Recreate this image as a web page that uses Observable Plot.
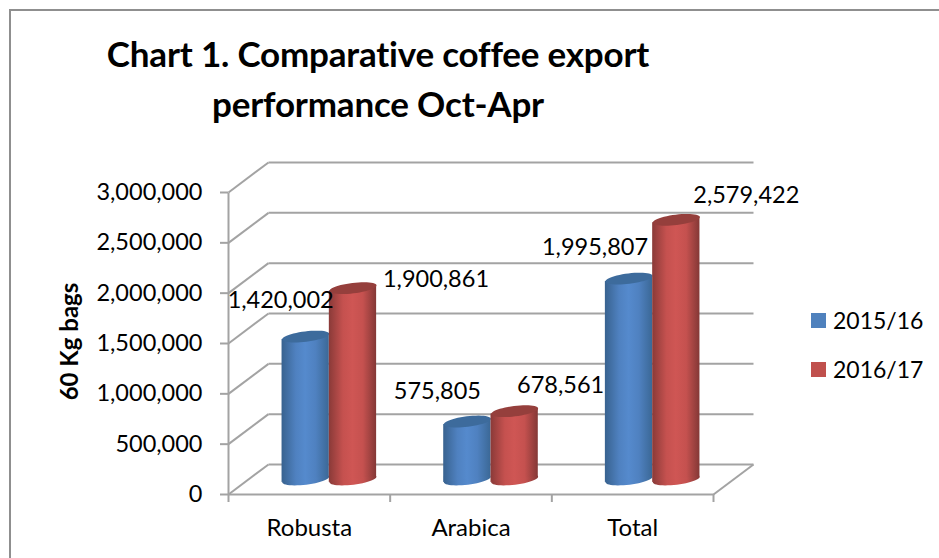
<!DOCTYPE html>
<html>
<head>
<meta charset="utf-8">
<script src="https://cdn.jsdelivr.net/npm/d3@7"></script>
<script src="https://cdn.jsdelivr.net/npm/@observablehq/plot@0.6"></script>
<style>
  html, body { margin: 0; padding: 0; background: #fff; overflow: hidden; }
  #page { position: relative; width: 939px; height: 558px; overflow: hidden; font-family: Lato, sans-serif; color: #000; }
  #frame { position: absolute; left: 9px; top: 9px; width: 960px; height: 600px; border: 2px solid #8f8f8f; box-sizing: border-box; }
  #title { position: absolute; left: 78px; top: 28px; width: 600px; height: 100px; margin: 0; text-align: center; font-size: 35px; line-height: 50px; font-weight: 700; letter-spacing: -0.2px; }
  #chart { position: absolute; left: 0; top: 130px; }
  #legend { position: absolute; left: 811px; top: 305px; font-size: 23px; }
  #legend div { display: flex; align-items: center; height: 30px; margin-bottom: 19px; }
  #legend i { display: block; width: 15px; height: 15px; margin-right: 7px; }
</style>
</head>
<body>
<div id="page">
  <div id="frame"></div>
  <h1 id="title">Chart 1. Comparative coffee export<br>performance Oct-Apr</h1>
  <div id="chart"></div>
  <div id="legend"></div>
</div>
<script>
const categories = ["Robusta", "Arabica", "Total"];
const seasons = ["2015/16", "2016/17"];
const exports201516 = [1420002, 575805, 1995807];
const exports201617 = [1900861, 678561, 2579422];
const yTicks = [0, 500000, 1000000, 1500000, 2000000, 2500000, 3000000];

// Oblique depth of the 3D box, in data units of each axis.
const depthX = 0.2474;
const depthY = 298000;
const barWidth = 0.2925;
// How far the rim of a cylinder end rises across half its width, in y units.
const rimTilt = 28600;

const seriesStyle = [
  {values: exports201516, swatch: "#4f81bd", side: "url(#side-blue)", cap: "#3d6b9c"},
  {values: exports201617, swatch: "#c0504d", side: "url(#side-red)", cap: "#953f3c"}
];

// Pixel nudges for the value labels, which sit clear of the cylinders.
const labelNudge = [
  [[-25, -36], [83, -9]],
  [[-30, -30], [46, -26]],
  [[-34, -31], [70, -24]]
];

const grey = "#a3a3a3";
const thousands = d3.format(",");

// Tilted ellipse for the cylinder ends; the dot radius sets its half-width.
const tiltedEllipse = {
  draw(context, size) {
    const a = Math.sqrt(size / Math.PI), b = a * 0.22, t = -7 * Math.PI / 180;
    for (let i = 0; i < 48; ++i) {
      const u = (i / 48) * 2 * Math.PI;
      const ex = a * Math.cos(u), ey = b * Math.sin(u);
      const px = ex * Math.cos(t) - ey * Math.sin(t);
      const py = ex * Math.sin(t) + ey * Math.cos(t);
      if (i === 0) context.moveTo(px, py); else context.lineTo(px, py);
    }
    context.closePath();
  }
};

function gradients() {
  const g = document.createElementNS("http://www.w3.org/2000/svg", "defs");
  const ramp = (id, edgeL, mid, peak, edgeR) => `
    <linearGradient id="${id}" x1="0" x2="1" y1="0" y2="0">
      <stop offset="0" stop-color="${edgeL}"/>
      <stop offset="0.3" stop-color="${mid}"/>
      <stop offset="0.5" stop-color="${peak}"/>
      <stop offset="0.72" stop-color="${mid}"/>
      <stop offset="1" stop-color="${edgeR}"/>
    </linearGradient>`;
  g.innerHTML = ramp("side-blue", "#38628f", "#4f81c0", "#558acd", "#3b6896")
              + ramp("side-red", "#8a3a38", "#c5514f", "#cf5654", "#843836");
  return g;
}

// One cylinder per category and season: lower end, body, upper end.
const cylinders = seriesStyle.flatMap((s, j) => {
  const rows = categories.map((c, i) => ({
    category: c,
    center: i + 0.5 + depthX / 2 + (j - 0.5) * barWidth,
    base: depthY / 2,
    top: s.values[i] + depthY / 2
  }));
  // The body's left and right edges meet the tilted rims of both ends.
  const edges = rows.flatMap(d => [-1, 1].map(side => ({
    category: d.category,
    x: d.center + side * barWidth / 2,
    y1: d.base + side * rimTilt,
    y2: d.top + side * rimTilt
  })));
  const endStyle = {x: "center", r: (barWidth * 161.67) / 2, symbol: tiltedEllipse};
  return [
    Plot.dot(rows, {...endStyle, y: "base", fill: s.side}),
    Plot.areaY(edges, {x: "x", y1: "y1", y2: "y2", z: "category", fill: s.side}),
    Plot.dot(rows, {...endStyle, y: "top", fill: s.cap})
  ];
});

const valueLabels = seriesStyle.flatMap((s, j) => categories.map((c, i) => Plot.text(
  [{x: i + 0.5 + depthX / 2 + (j - 0.5) * barWidth, y: s.values[i] + depthY / 2, v: s.values[i]}],
  {x: "x", y: "y", text: d => thousands(d.v), dx: labelNudge[i][j][0], dy: labelNudge[i][j][1], fontSize: 23.5, fill: "#000"}
)));

const chart = Plot.plot({
  width: 939,
  height: 428,
  marginLeft: 228,
  marginRight: 226,
  marginTop: 62,
  marginBottom: 64,
  style: {fontFamily: "Lato, sans-serif", background: "transparent", color: "#000", overflow: "visible"},
  x: {domain: [0, 3], axis: null},
  y: {domain: [0, 3000000], axis: null},
  marks: [
    gradients,
    // back wall gridlines and the diagonal of the side wall at each tick
    Plot.link(yTicks, {x1: depthX, x2: 3 + depthX, y1: d => d + depthY, y2: d => d + depthY, stroke: grey, strokeWidth: 2}),
    Plot.link(yTicks, {x1: 0, x2: depthX, y1: d => d, y2: d => d + depthY, stroke: grey, strokeWidth: 2}),
    // front floor edge, right floor edge, and the vertical axis
    Plot.link([0], {x1: 0, x2: 3, y1: 0, y2: 0, stroke: grey, strokeWidth: 2}),
    Plot.link([0], {x1: 3, x2: 3 + depthX, y1: 0, y2: depthY, stroke: grey, strokeWidth: 2}),
    Plot.link([0], {x1: 0, x2: 0, y1: 0, y2: 3000000, stroke: grey, strokeWidth: 2}),
    Plot.axisY(yTicks, {tickSize: 8, tickPadding: 18, tickFormat: thousands, fontSize: 23.5, stroke: grey, strokeWidth: 2, label: null, anchor: "left"}),
    Plot.axisX([0, 1, 2, 3], {tickSize: 8, tickFormat: () => "", stroke: grey, strokeWidth: 2, label: null, anchor: "bottom"}),
    Plot.axisX([0.5, 1.5, 2.5], {tickSize: 0, tickPadding: 24, tickFormat: d => categories[Math.floor(d)], fontSize: 24, label: null, anchor: "bottom"}),
    Plot.text(["60 Kg bags"], {frameAnchor: "left", textAnchor: "middle", rotate: -90, dx: -158, dy: -2, fontSize: 24, fontWeight: 700, fill: "#000"}),
    ...cylinders,
    ...valueLabels
  ]
});
document.getElementById("chart").append(chart);

const legend = document.getElementById("legend");
seasons.forEach((name, j) => {
  const row = document.createElement("div");
  const swatch = document.createElement("i");
  swatch.style.background = seriesStyle[j].swatch;
  row.append(swatch, name);
  legend.append(row);
});
</script>
</body>
</html>
